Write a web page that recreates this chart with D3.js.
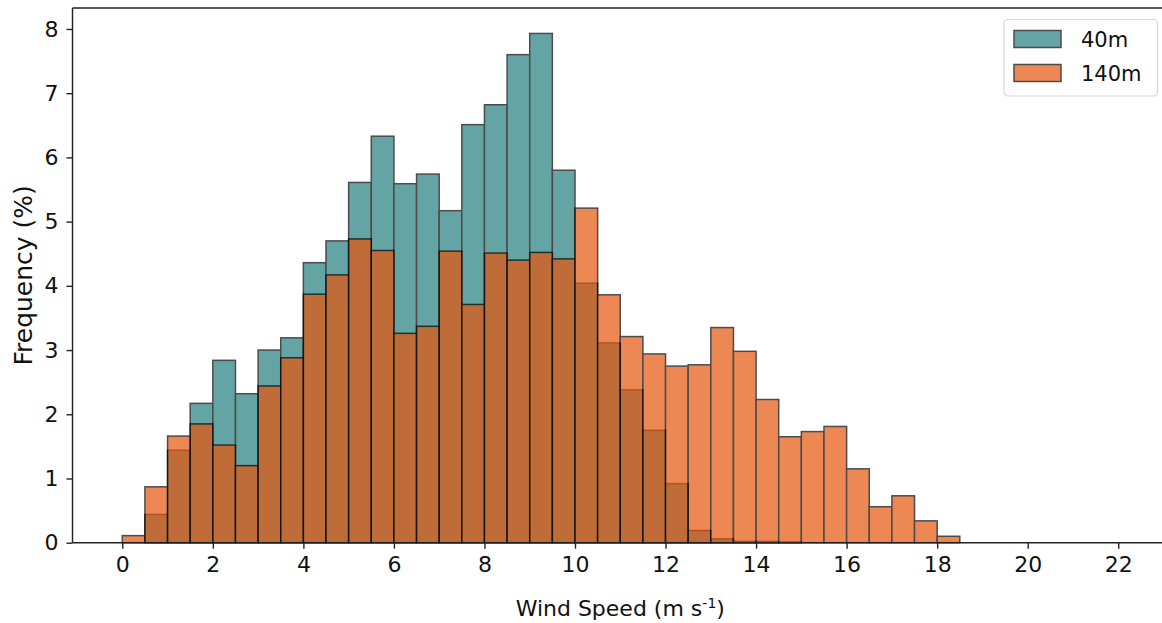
<!DOCTYPE html>
<html>
<head>
<meta charset="utf-8">
<script src="https://cdn.jsdelivr.net/npm/d3@7"></script>
<style>
  html, body { margin: 0; padding: 0; background: #fff; }
  svg { display: block; font-family: "DejaVu Sans", sans-serif; }
</style>
</head>
<body>
<svg id="chart" width="1162" height="623"></svg>
<script>
// Histogram bins: 0.5 m/s wide, left edges from 0 to 21.5
const binWidth = 0.5;
const binStarts = d3.range(0, 22, binWidth);

// Frequency (%) per bin at 40 m
const freq40 = [
  0.00, 0.44, 1.44, 2.17, 2.84, 2.32, 3.00, 3.19, 4.36, 4.70,
  5.61, 6.33, 5.59, 5.74, 5.17, 6.51, 6.82, 7.60, 7.93, 5.80,
  4.04, 3.11, 2.38, 1.75, 0.92, 0.19, 0.06, 0.02, 0.02, 0.01,
  0, 0, 0, 0, 0, 0, 0, 0, 0, 0, 0, 0, 0, 0
];

// Frequency (%) per bin at 140 m
const freq140 = [
  0.11, 0.87, 1.66, 1.85, 1.52, 1.20, 2.44, 2.88, 3.87, 4.17,
  4.73, 4.55, 3.26, 3.37, 4.54, 3.71, 4.51, 4.40, 4.52, 4.42,
  5.21, 3.86, 3.21, 2.94, 2.75, 2.77, 3.35, 2.98, 2.23, 1.65,
  1.73, 1.81, 1.15, 0.56, 0.73, 0.34, 0.10, 0, 0, 0, 0, 0, 0, 0
];

const seriesNames = ["40m", "140m"];
const seriesColors = ["#247e7e", "#e6550d"];
const xTicks = d3.range(0, 23, 2);
const yTicks = d3.range(0, 9, 1);

const svg = d3.select("#chart");
const plot = { left: 72.5, top: 8, bottom: 542.7 };

const xMax = 22, xPad = 1.1;
const x = d3.scaleLinear()
  .domain([-xPad, xMax + xPad])
  .range([plot.left, plot.left + (xMax + 2 * xPad) * 45.27]);

const yTop = d3.max(freq40.concat(freq140)) * 1.05;
const y = d3.scaleLinear().domain([0, yTop]).range([plot.bottom, plot.top]);

const series = [freq40, freq140];

series.forEach((vals, si) => {
  svg.append("g")
    .attr("opacity", 0.7)
    .selectAll("rect")
    .data(vals.map((v, i) => ({ x0: binStarts[i], v })))
    .join("rect")
    .attr("x", d => x(d.x0))
    .attr("width", d => x(d.x0 + binWidth) - x(d.x0))
    .attr("y", d => y(d.v))
    .attr("height", d => y(0) - y(d.v))
    .attr("fill", seriesColors[si])
    .attr("stroke", "#000")
    .attr("stroke-width", 1.5);
});

// Axes
const tickFont = 22;
const xAxis = svg.append("g")
  .attr("transform", `translate(0,${plot.bottom})`)
  .call(d3.axisBottom(x).tickValues(xTicks).tickSize(6).tickPadding(8).tickFormat(d3.format("d")));
const yAxis = svg.append("g")
  .attr("transform", `translate(${plot.left},0)`)
  .call(d3.axisLeft(y).tickValues(yTicks).tickSize(6).tickPadding(8).tickFormat(d3.format("d")));

[xAxis, yAxis].forEach(g => {
  g.select(".domain").attr("stroke", "#222").attr("stroke-width", 1.4);
  g.selectAll(".tick line").attr("stroke", "#222").attr("stroke-width", 1.4);
  g.selectAll(".tick text").attr("fill", "#111").style("font-size", tickFont + "px")
    .style("font-family", "'DejaVu Sans', sans-serif");
});
// keep the bottom and left spines to the plot extent only
xAxis.select(".domain").attr("d", `M${x.range()[0]},0H${x.range()[1]}`);
yAxis.select(".domain").attr("d", `M0,${plot.bottom}V${plot.top}`);

// Top and right spines
svg.append("line")
  .attr("x1", x.range()[0]).attr("x2", x.range()[1])
  .attr("y1", plot.top).attr("y2", plot.top)
  .attr("stroke", "#222").attr("stroke-width", 1.4);
svg.append("line")
  .attr("x1", x.range()[1]).attr("x2", x.range()[1])
  .attr("y1", plot.top).attr("y2", plot.bottom)
  .attr("stroke", "#222").attr("stroke-width", 1.4);

// Axis titles
const xTitle = svg.append("text")
  .attr("x", (x(0) + x(22)) / 2)
  .attr("y", 616)
  .attr("text-anchor", "middle")
  .style("font-size", "22px")
  .attr("fill", "#111");
xTitle.append("tspan").text("Wind Speed (m s");
xTitle.append("tspan").attr("dy", -8).style("font-size", "14px").text("-1");
xTitle.append("tspan").attr("dy", 8).text(")");

svg.append("text")
  .attr("transform", `translate(32,${(plot.top + plot.bottom) / 2}) rotate(-90)`)
  .attr("text-anchor", "middle")
  .style("font-size", "25px")
  .attr("fill", "#111")
  .text("Frequency (%)");

// Legend
const legend = svg.append("g");
legend.append("rect")
  .attr("x", 1004).attr("y", 19.5).attr("width", 153.5).attr("height", 76.5)
  .attr("rx", 4).attr("fill", "#fff").attr("fill-opacity", 0.8)
  .attr("stroke", "#d6d6d6").attr("stroke-width", 1.2);
seriesNames.forEach((name, i) => {
  const g = legend.append("g").attr("transform", `translate(0,${i * 34})`);
  g.append("rect")
    .attr("x", 1014).attr("y", 30.5).attr("width", 47).attr("height", 17)
    .attr("fill", seriesColors[i]).attr("opacity", 0.7)
    .attr("stroke", "#000").attr("stroke-width", 1.5);
  g.append("text")
    .attr("x", 1081).attr("y", 46.5)
    .style("font-size", "21px")
    .attr("fill", "#111")
    .text(name);
});
</script>
</body>
</html>
